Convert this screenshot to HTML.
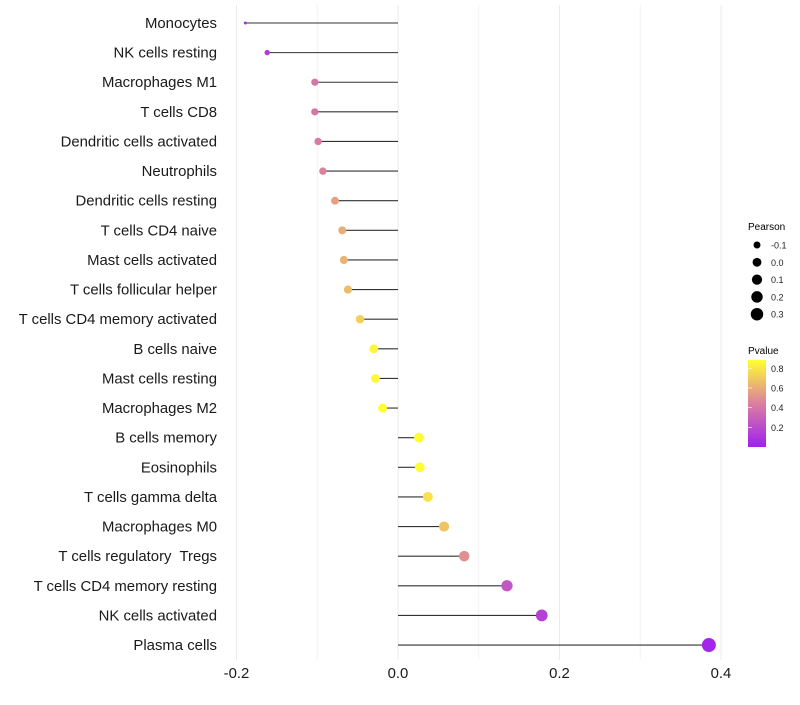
<!DOCTYPE html>
<html><head><meta charset="utf-8"><style>
body{margin:0;background:#fff;font-family:"Liberation Sans",sans-serif}
text{white-space:pre}
</style></head><body>
<svg id="chart" width="800" height="700" xmlns="http://www.w3.org/2000/svg" font-family="Liberation Sans, sans-serif">
<defs><linearGradient id="pg" x1="0" y1="1" x2="0" y2="0">
<stop offset="0" stop-color="#A020F0"/><stop offset="0.5" stop-color="#DB7FA0"/><stop offset="1" stop-color="#FFFF30"/></linearGradient></defs>
<g id="grid"></g>
<g id="marks"></g>
<g id="labels"></g>
<g id="xticks"></g>
<g id="sizeLeg">
<text x="748" y="230" font-size="10">Pearson</text>
</g>
<g id="colLeg">
<text x="748" y="354" font-size="10">Pvalue</text>
<rect x="748" y="360" width="18" height="87" fill="url(#pg)"/>
</g>
</svg>
<script>
const categories=["Monocytes","NK cells resting","Macrophages M1","T cells CD8","Dendritic cells activated","Neutrophils","Dendritic cells resting","T cells CD4 naive","Mast cells activated","T cells follicular helper","T cells CD4 memory activated","B cells naive","Mast cells resting","Macrophages M2","B cells memory","Eosinophils","T cells gamma delta","Macrophages M0","T cells regulatory  Tregs","T cells CD4 memory resting","NK cells activated","Plasma cells"];
const pearson=[-0.189,-0.162,-0.103,-0.103,-0.099,-0.093,-0.078,-0.069,-0.067,-0.062,-0.047,-0.030,-0.028,-0.019,0.026,0.027,0.037,0.057,0.082,0.135,0.178,0.385];
const pvalue=[0.05,0.12,0.4,0.4,0.42,0.45,0.55,0.6,0.62,0.65,0.72,0.85,0.86,0.88,0.87,0.87,0.78,0.68,0.5,0.25,0.15,0.03];
const xTicks=[-0.2,0.0,0.2,0.4];
const xTickLabels=["-0.2","0.0","0.2","0.4"];
const sizeLegVals=[-0.1,0,0.1,0.2,0.3];
const colLegVals=[0.2,0.4,0.6,0.8];

const NS="http://www.w3.org/2000/svg";
const X=v=>398+v*807.5;
const Y=i=>23+i*29.62;
const R=v=>1.5+5.5*Math.sqrt(Math.max(0,(v+0.189)/0.574));
const PY=p=>447-(p*98.3);
function lerp(a,b,t){return a.map((x,i)=>Math.round(x+(b[i]-x)*t));}
function col(p){const t=Math.min(1,p/0.88);const s=[[160,32,240],[219,127,160],[255,255,48]];
 const c=t<0.5?lerp(s[0],s[1],t/0.5):lerp(s[1],s[2],(t-0.5)/0.5);return `rgb(${c})`;}
function mk(tag,at,parent){const e=document.createElementNS(NS,tag);for(const k in at)e.setAttribute(k,at[k]);parent.appendChild(e);return e;}
const grid=document.getElementById('grid'),marks=document.getElementById('marks'),labels=document.getElementById('labels'),xt=document.getElementById('xticks');
for(let v=-0.2;v<=0.41;v+=0.1){const l=mk('line',{x1:X(v),x2:X(v),y1:5,y2:660,stroke:Math.abs(Math.round(v*10))%2==0?'#ebebeb':'#f4f4f4','stroke-width':1},grid);

}
categories.forEach((c,i)=>{
 const ln=mk('line',{x1:X(0),x2:X(pearson[i]),y1:Y(i),y2:Y(i),stroke:'#333','stroke-width':1.1},marks);
 
 
 const d=mk('circle',{cx:X(pearson[i]),cy:Y(i),r:R(pearson[i]),fill:col(pvalue[i])},marks);
 
 
 const t=mk('text',{x:217,y:Y(i)+5,'text-anchor':'end','font-size':14.9,fill:'#1a1a1a'},labels);t.textContent=c;
 
 
});
xTicks.forEach((v,i)=>{const t=mk('text',{x:X(v),y:678,'text-anchor':'middle','font-size':14.9,fill:'#1a1a1a'},xt);t.textContent=xTickLabels[i];
 
 });
const sl=document.getElementById('sizeLeg');
sizeLegVals.forEach((v,i)=>{const y=245+i*17.3;
 const c=mk('circle',{cx:757,cy:y,r:R(v)*0.95,fill:'#000'},sl);
 
 
 const t=mk('text',{x:771,y:y+3.5,'font-size':9,fill:'#222'},sl);t.textContent=v.toFixed(1);
 
 });
const cl=document.getElementById('colLeg');
colLegVals.forEach(v=>{const y=PY(v);
 const l1=mk('line',{x1:748,x2:752,y1:y,y2:y,stroke:'#fff','stroke-width':0.6},cl);
 
 
 const t=mk('text',{x:771,y:y+3.5,'font-size':9,fill:'#222'},cl);t.textContent=v.toFixed(1);
 
 });
</script>
</body></html>
